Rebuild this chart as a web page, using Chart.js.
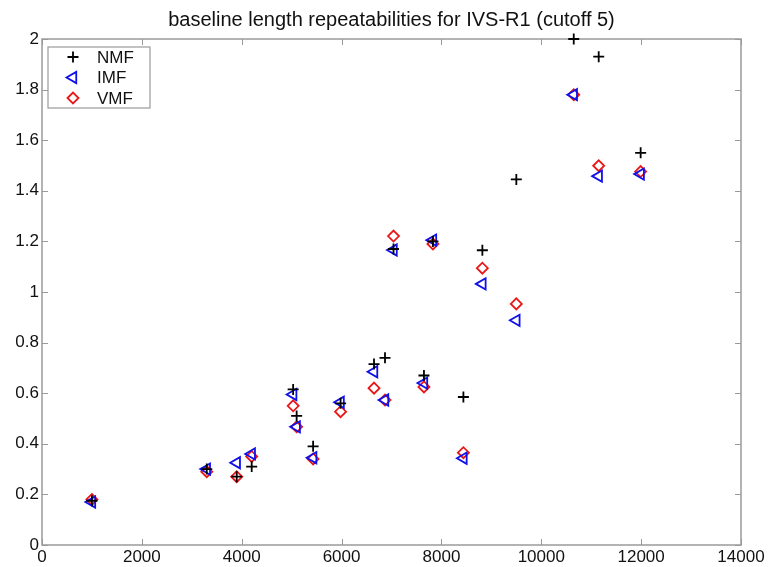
<!DOCTYPE html>
<html>
<head>
<meta charset="utf-8">
<script src="https://cdn.jsdelivr.net/npm/chart.js@4"></script>
<style>
  html, body { margin: 0; padding: 0; background: #fff; }
  canvas { display: block; }
</style>
</head>
<body>
<canvas id="repeatChart" width="769" height="567"></canvas>
<script>
/* ================================
   Data
================================ */
const baselineLengths = [1000, 3300, 3900, 4200, 5030, 5100, 5430, 5980, 6650, 6870,
                         7040, 7650, 7830, 8440, 8820, 9500, 10650, 11150, 11990];

const nmfValues = [0.175, 0.30, 0.27, 0.31, 0.615, 0.51, 0.39, 0.56, 0.715, 0.74,
                   1.17, 0.67, 1.20, 0.585, 1.165, 1.445, 2.0, 1.93, 1.55];

const imfValues = [0.17, 0.30, 0.325, 0.36, 0.595, 0.467, 0.345, 0.564, 0.685, 0.573,
                   1.166, 0.64, 1.205, 0.343, 1.032, 0.888, 1.78, 1.458, 1.466];

const vmfValues = [0.18, 0.29, 0.27, 0.35, 0.55, 0.467, 0.34, 0.527, 0.62, 0.573,
                   1.221, 0.625, 1.19, 0.365, 1.094, 0.953, 1.78, 1.499, 1.476];

const xTicks = [0, 2000, 4000, 6000, 8000, 10000, 12000, 14000];
const yTicks = [0, 0.2, 0.4, 0.6, 0.8, 1, 1.2, 1.4, 1.6, 1.8, 2];

const TITLE = "baseline length repeatabilities for IVS-R1 (cutoff 5)";
const FONT = "'Liberation Sans', Arial, sans-serif";
const AXIS_GRAY = "#9a9a9a";

function toPoints(values) {
  return baselineLengths.map((x, i) => ({ x, y: values[i] }));
}

/* ================================
   Plugins: Matlab-style box, title, legend
================================ */
const axisBox = {
  id: "axisBox",
  beforeDatasetsDraw(chart) {
    const { ctx, chartArea: a, scales } = chart;
    const tl = 6;
    ctx.save();
    ctx.strokeStyle = AXIS_GRAY;
    ctx.lineWidth = 1.5;
    ctx.strokeRect(a.left, a.top, a.right - a.left, a.bottom - a.top);
    ctx.lineWidth = 1;
    ctx.beginPath();
    xTicks.forEach(v => {
      const px = Math.round(scales.x.getPixelForValue(v)) + 0.5;
      ctx.moveTo(px, a.bottom); ctx.lineTo(px, a.bottom - tl);
      ctx.moveTo(px, a.top); ctx.lineTo(px, a.top + tl);
    });
    yTicks.forEach(v => {
      const py = Math.round(scales.y.getPixelForValue(v)) + 0.5;
      ctx.moveTo(a.left, py); ctx.lineTo(a.left + tl, py);
      ctx.moveTo(a.right, py); ctx.lineTo(a.right - tl, py);
    });
    ctx.stroke();

    // title centred over the plot box, as Matlab does
    ctx.fillStyle = "#111";
    ctx.font = "20px " + FONT;
    ctx.textAlign = "center";
    ctx.textBaseline = "middle";
    ctx.fillText(TITLE, (a.left + a.right) / 2, 20);
    ctx.restore();
  }
};

const boxLegend = {
  id: "boxLegend",
  afterDatasetsDraw(chart) {
    const { ctx, chartArea: a } = chart;
    const x0 = a.left + 6, y0 = a.top + 8, w = 102, h = 61;
    ctx.save();
    ctx.fillStyle = "#fff";
    ctx.fillRect(x0, y0, w, h);
    ctx.strokeStyle = AXIS_GRAY;
    ctx.lineWidth = 1.2;
    ctx.strokeRect(x0, y0, w, h);

    chart.data.datasets.forEach((ds, i) => {
      const cy = y0 + 10 + i * 20.5;
      ctx.strokeStyle = ds.borderColor;
      ctx.fillStyle = "rgba(0,0,0,0)";
      ctx.lineWidth = ds.borderWidth;
      Chart.helpers.drawPoint(ctx, {
        pointStyle: ds.pointStyle,
        rotation: ds.rotation || 0,
        radius: ds.pointRadius,
        borderWidth: ds.borderWidth
      }, x0 + 25, cy);
      ctx.fillStyle = "#111";
      ctx.font = "17px " + FONT;
      ctx.textAlign = "left";
      ctx.textBaseline = "middle";
      ctx.fillText(ds.label, x0 + 49, cy + 1);
    });
    ctx.restore();
  }
};

/* ================================
   Render Chart
================================ */
const ctx = document.getElementById("repeatChart");

new Chart(ctx, {
  type: "scatter",
  data: {
    datasets: [
      {
        label: "NMF",
        data: toPoints(nmfValues),
        pointStyle: "cross",
        pointRadius: 5.5,
        borderColor: "#000",
        backgroundColor: "#000",
        borderWidth: 1.8
      },
      {
        label: "IMF",
        data: toPoints(imfValues),
        pointStyle: "triangle",
        rotation: -90,
        pointRotation: -90,
        pointRadius: 6.5,
        borderColor: "#1010e8",
        backgroundColor: "rgba(0,0,0,0)",
        borderWidth: 1.8
      },
      {
        label: "VMF",
        data: toPoints(vmfValues),
        pointStyle: "rectRot",
        pointRadius: 5.5,
        borderColor: "#e81818",
        backgroundColor: "rgba(0,0,0,0)",
        borderWidth: 1.8
      }
    ]
  },
  options: {
    responsive: false,
    animation: false,
    clip: false,
    layout: { padding: { left: 0, right: 28, top: 39, bottom: 0 } },
    plugins: {
      legend: { display: false },
      tooltip: { enabled: false },
      title: { display: false }
    },
    scales: {
      x: {
        type: "linear",
        min: 0,
        max: 14000,
        afterBuildTicks: scale => { scale.ticks = xTicks.map(v => ({ value: v })); },
        afterFit: scale => { scale.height = 22; },
        grid: { display: false, drawTicks: false },
        border: { display: false },
        ticks: {
          color: "#111",
          padding: 2,
          maxRotation: 0,
          font: { family: FONT, size: 17 },
          callback: v => String(v)
        }
      },
      y: {
        type: "linear",
        min: 0,
        max: 2,
        afterBuildTicks: scale => { scale.ticks = yTicks.map(v => ({ value: v })); },
        afterFit: scale => { scale.width = 42; },
        grid: { display: false, drawTicks: false },
        border: { display: false },
        ticks: {
          color: "#111",
          padding: 3,
          font: { family: FONT, size: 17 },
          callback: v => String(+v.toFixed(1))
        }
      }
    }
  },
  plugins: [axisBox, boxLegend]
});
</script>
</body>
</html>
